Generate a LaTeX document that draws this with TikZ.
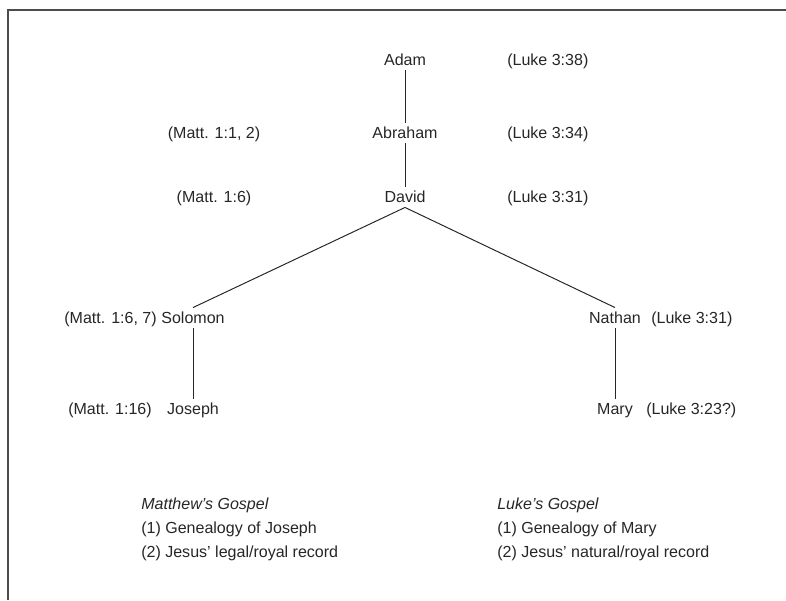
\documentclass[tikz,border=0pt]{standalone}
\usepackage{fontspec}
\setmainfont{Liberation Sans}
\usepackage{tikz}

\begin{document}
\begin{tikzpicture}[x=0.025cm,y=-0.025cm,
        every node/.style={font=\fontsize{11.4}{14}\selectfont,text=black!85},
        person/.style={inner xsep=0.05cm,inner ysep=0.11cm,text height=8.2pt,text depth=0pt},
        ref/.style={inner sep=0pt,text height=8.2pt,text depth=0pt},
        gospel/.style={inner sep=0pt,anchor=west,font=\fontsize{11.4}{14}\selectfont\itshape},
        line/.style={black!85,line width=0.7pt}]
        \useasboundingbox (0,0) rectangle (786,600);
        \draw[black!70,line width=0.8pt] (786,10)--(8,10)--(8,600);
        \node[person] (adam) at (405,60) {Adam};
        \node[person] (abraham) at (405,133) {Abraham};
        \node[person] (david) at (405,197) {David};
        \node[person] (solomon) at (193,318) {Solomon};
        \node[person] (joseph) at (193,409) {Joseph};
        \node[person] (nathan) at (615,318) {Nathan};
        \node[person] (mary) at (615,409) {Mary};
        \node[ref,anchor=west] (lukeadam) at (507,60) {(Luke 3:38)};
        \node[ref,anchor=west] (lukeabraham) at (507,133) {(Luke 3:34)};
        \node[ref,anchor=west] (lukedavid) at (507,197) {(Luke 3:31)};
        \node[ref] (mattabraham) at (214,133) {(Matt. 1:1, 2)};
        \node[ref] (mattdavid) at (214,197) {(Matt. 1:6)};
        \node[ref,anchor=east] (mattsolomon) at (157,318) {(Matt. 1:6, 7)};
        \node[ref,anchor=east] (mattjoseph) at (152,409) {(Matt. 1:16)};
        \node[ref,anchor=west] (lukenathan) at (651,318) {(Luke 3:31)};
        \node[ref,anchor=west] (lukemary) at (646,409) {(Luke 3:23?)};
        \draw[line] (adam.south)--(abraham.north);
        \draw[line] (abraham.south)--(david.north);
        \draw[line] (david.south)--(solomon.north);
        \draw[line] (david.south)--(nathan.north);
        \draw[line] (solomon.south)--(joseph.north);
        \draw[line] (nathan.south)--(mary.north);
        \node[gospel] (matthew) at (141,505) {Matthew's Gospel};
        \node[gospel,font=\fontsize{11.4}{14}\selectfont] (matthew1) at (141,529) {(1) Genealogy of Joseph};
        \node[gospel,font=\fontsize{11.4}{14}\selectfont] (matthew2) at (141,553) {(2) Jesus' legal/royal record};
        \node[gospel] (luke) at (497,505) {Luke's Gospel};
        \node[gospel,font=\fontsize{11.4}{14}\selectfont] (luke1) at (497,529) {(1) Genealogy of Mary};
        \node[gospel,font=\fontsize{11.4}{14}\selectfont] (luke2) at (497,553) {(2) Jesus' natural/royal record};
    \end{tikzpicture}
\end{document}
